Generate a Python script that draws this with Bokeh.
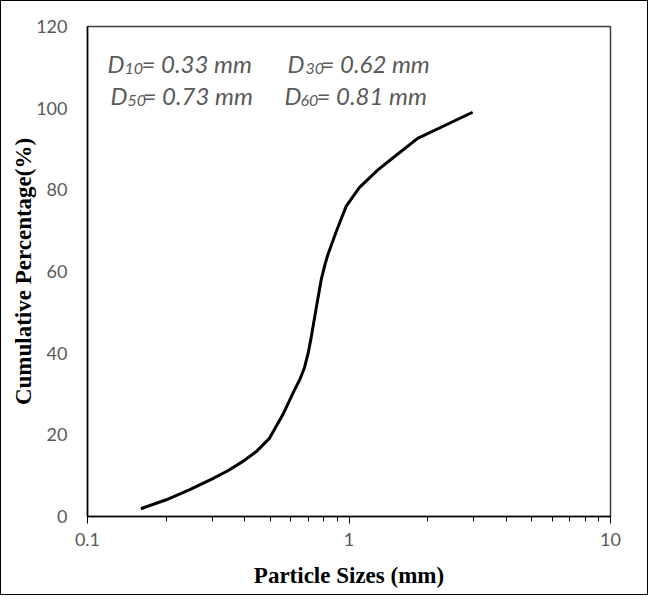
from bokeh.plotting import figure
from bokeh.models import FixedTicker, CustomJSTickFormatter, Label, Range1d
from bokeh.embed import file_html
from bokeh.resources import INLINE

# particle size (mm) and cumulative passing (%)
sizes_mm = [0.16, 0.20, 0.245, 0.30, 0.344, 0.393, 0.442, 0.497, 0.558, 0.619,
            0.648, 0.676, 0.698, 0.717, 0.749, 0.783, 0.81, 0.83, 0.894, 0.976,
            1.097, 1.29, 1.47, 1.83, 2.97]
cum_pct = [1.9, 4.1, 6.5, 9.2, 11.2, 13.5, 15.9, 19.2, 24.9, 31.0,
           33.5, 36.5, 40.0, 43.9, 51.0, 58.0, 61.8, 64.1, 69.8, 76.0,
           80.6, 84.9, 87.8, 92.6, 99.0]

x_ticks = [0.1, 1, 10]
x_minor_ticks = [0.2, 0.3, 0.4, 0.5, 0.6, 0.7, 0.8, 0.9, 2, 3, 4, 5, 6, 7, 8, 9]
y_ticks = [0, 20, 40, 60, 80, 100, 120]

d_names = ["10", "30", "50", "60"]
d_values = ["0.33", "0.62", "0.73", "0.81"]

p = figure(width=648, height=595, x_axis_type="log",
           x_range=Range1d(0.1, 10), y_range=Range1d(0, 120),
           output_backend="svg", toolbar_location=None,
           min_border_left=86, min_border_right=39,
           min_border_top=25, min_border_bottom=80)
p.styles = {"border": "1px solid black"}
p.background_fill_color = "white"
p.border_fill_color = "white"
p.xgrid.visible = False
p.ygrid.visible = False
p.outline_line_color = "#404040"
p.outline_line_width = 1.5

p.line(sizes_mm, cum_pct, line_color="black", line_width=3, line_join="round")

xa = p.xaxis[0]
xa.ticker = FixedTicker(ticks=x_ticks, minor_ticks=x_minor_ticks)
xa.formatter = CustomJSTickFormatter(code="return tick < 1 ? tick.toFixed(1) : tick.toFixed(0);")
xa.major_tick_out = 7
xa.major_tick_in = 0
xa.minor_tick_out = 5
xa.minor_tick_in = 0
xa.major_label_standoff = 9
xa.axis_label = "Particle Sizes (mm)"
xa.axis_label_standoff = 14

ya = p.yaxis[0]
ya.ticker = FixedTicker(ticks=y_ticks, minor_ticks=[])
ya.major_tick_out = 0
ya.major_tick_in = 0
ya.minor_tick_out = 0
ya.minor_tick_in = 0
ya.major_label_standoff = 20
ya.axis_label = "Cumulative Percentage(%)"
ya.axis_label_standoff = -3

for ax in (xa, ya):
    ax.axis_line_color = "black"
    ax.axis_line_width = 1.5
    ax.major_tick_line_color = "black"
    ax.minor_tick_line_color = "black"
    ax.major_label_text_font = "Lato"
    ax.major_label_text_font_size = "18px"
    ax.major_label_text_color = "#595959"
    ax.axis_label_text_font = "Liberation Serif"
    ax.axis_label_text_font_style = "bold"
    ax.axis_label_text_font_size = "23px"
    ax.axis_label_text_color = "black"

# annotation layout: (x offset of D, x offset of subscript, x offset of "= ...", baseline offset)
layout = [(20, 37, 54, -37), (200, 218, 233, -37), (23, 40, 55, -69), (197, 213, 229, -69)]
common = dict(x=0.1, y=120, text_font="Lato", text_font_style="italic",
              text_color="#595959", text_baseline="alphabetic", text_align="left")
for name, val, (dx, sx, ex, by) in zip(d_names, d_values, layout):
    p.add_layout(Label(text="D", x_offset=dx, y_offset=by, text_font_size="24px", **common))
    p.add_layout(Label(text=name, x_offset=sx, y_offset=by - 5, text_font_size="16px", **common))
    p.add_layout(Label(text="= " + val + " mm", x_offset=ex, y_offset=by, text_font_size="24px", **common))

open("out.html", "w").write(file_html(p, INLINE))
